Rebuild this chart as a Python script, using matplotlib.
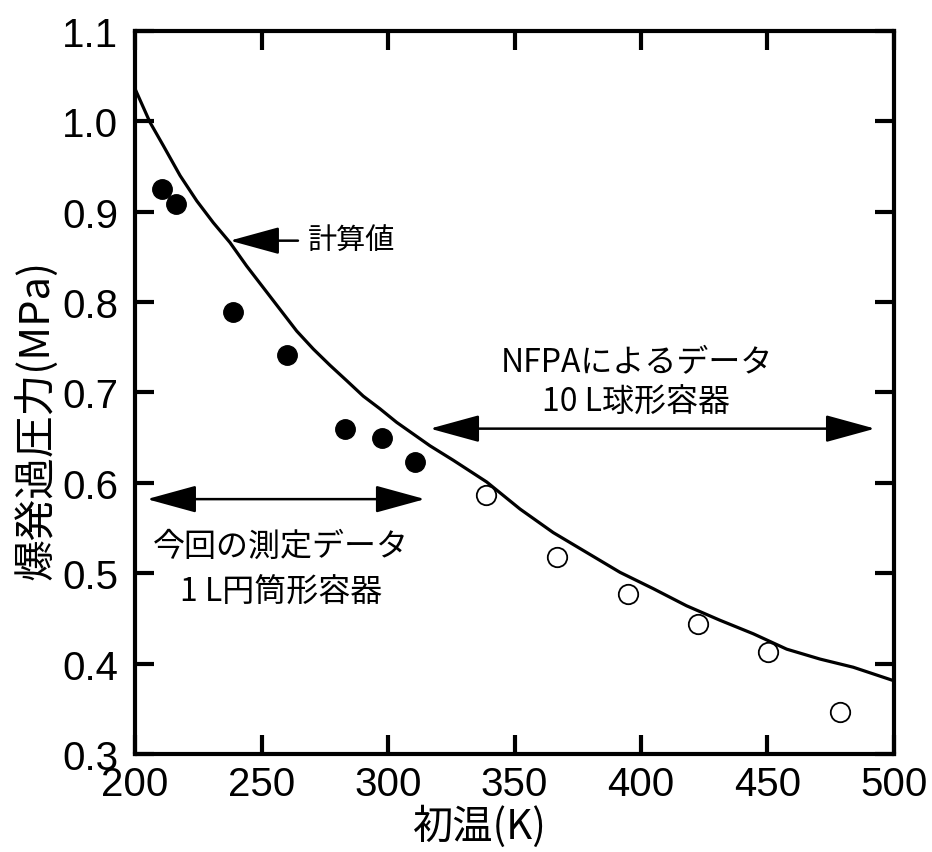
import numpy as np
import matplotlib.pyplot as plt
from matplotlib.patches import FancyArrowPatch

# measured data (1 L cylindrical vessel)
t_meas = [210.5, 216.2, 238.9, 260.0, 283.0, 297.5, 310.7]
p_meas = [0.925, 0.909, 0.789, 0.741, 0.660, 0.650, 0.623]

# NFPA data (10 L spherical vessel)
t_nfpa = [338.7, 366.9, 395.0, 422.6, 450.3, 478.7]
p_nfpa = [0.587, 0.518, 0.477, 0.444, 0.413, 0.346]

# calculated curve
t_calc = [200.0, 205.9, 211.2, 217.8, 224.4, 230.9, 237.5, 244.1, 250.7, 257.3,
          263.9, 270.5, 277.1, 283.7, 290.2, 296.8, 303.4, 310.0, 316.6, 325.8,
          339.0, 352.2, 365.3, 378.5, 391.7, 404.8, 418.0, 431.2, 444.4, 457.6,
          470.8, 483.9, 500.0]
p_calc = [1.036, 0.999, 0.973, 0.940, 0.912, 0.888, 0.866, 0.840, 0.816, 0.792,
          0.768, 0.748, 0.730, 0.713, 0.696, 0.682, 0.667, 0.654, 0.641, 0.625,
          0.601, 0.571, 0.545, 0.523, 0.501, 0.483, 0.464, 0.448, 0.433, 0.416,
          0.405, 0.396, 0.381]

jp = ['Noto Sans CJK JP', 'DejaVu Sans']
num_font = 'Liberation Sans'

fig = plt.figure(figsize=(9.32, 8.53), dpi=100)
ax = fig.add_axes([0.1449, 0.1149, 0.8143, 0.8476])

ax.plot(t_calc, p_calc, color='black', lw=2.3)
ax.plot(t_meas, p_meas, 'o', color='black', ms=14)
ax.plot(t_nfpa, p_nfpa, 'o', mfc='white', mec='black', mew=1.3, ms=14)

ax.set_xlim(200, 500)
ax.set_ylim(0.3, 1.1)
ax.set_xticks(np.arange(200, 501, 50))
ax.set_yticks(np.arange(0.3, 1.101, 0.1))
ax.set_yticklabels([f'{v:.1f}' for v in np.arange(0.3, 1.101, 0.1)])

ax.tick_params(direction='in', length=14, width=3, top=True, right=True,
               labelsize=29, pad=8)
ax.tick_params(axis='y', pad=12)
for lab in ax.get_xticklabels() + ax.get_yticklabels():
    lab.set_fontfamily(num_font)
for sp in ax.spines.values():
    sp.set_linewidth(3)

ax.set_xlabel('初温(K)', fontsize=29, family=jp)
ax.xaxis.set_label_coords(0.455, -0.07)
ax.set_ylabel('爆発過圧力(MPa)', fontsize=30, family=jp)
ax.yaxis.set_label_coords(-0.102, 0.463)

style = '-|>,head_length=3.1,head_width=0.85'
dstyle = '<|-|>,head_length=3.1,head_width=0.85'

# 計算値 arrow
ax.add_patch(FancyArrowPatch((264.4, 0.868), (237.5, 0.868), arrowstyle=style,
                             mutation_scale=10, color='black', lw=1.8,
                             shrinkA=0, shrinkB=0))
ax.text(268.4, 0.868, '計算値', family=jp, fontsize=21, va='center', ha='left')

# measured range
ax.add_patch(FancyArrowPatch((204.7, 0.582), (314.6, 0.582), arrowstyle=dstyle,
                             mutation_scale=10, color='black', lw=1.8,
                             shrinkA=0, shrinkB=0))
ax.text(257.7, 0.530, '今回の測定データ', family=jp, fontsize=23,
        ha='center', va='center')
ax.text(257.7, 0.480, '1 L円筒形容器', family=jp, fontsize=23,
        ha='center', va='center')

# NFPA range
ax.add_patch(FancyArrowPatch((316.6, 0.660), (492.5, 0.660), arrowstyle=dstyle,
                             mutation_scale=10, color='black', lw=1.8,
                             shrinkA=0, shrinkB=0))
ax.text(398.2, 0.734, 'NFPAによるデータ', family=jp, fontsize=23,
        ha='center', va='center')
ax.text(398.2, 0.690, '10 L球形容器', family=jp, fontsize=23,
        ha='center', va='center')

fig.savefig('out.png', dpi=100)
